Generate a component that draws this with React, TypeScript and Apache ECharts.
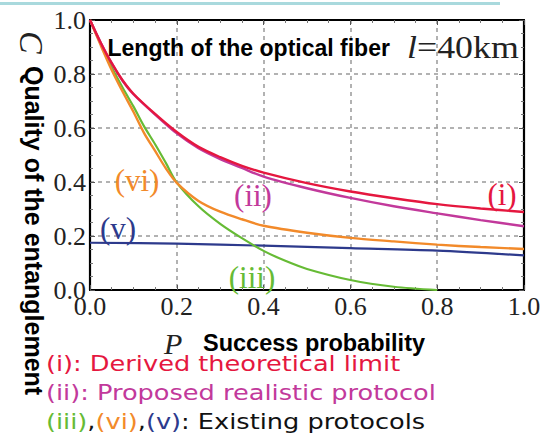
import React, { useEffect, useRef } from "react";
import * as echarts from "echarts";

// Success probability P (x) and quality C (y)
const pUpper = [0, 0.025, 0.05, 0.075, 0.1, 0.15, 0.2, 0.25, 0.3, 0.35, 0.4, 0.5, 0.6, 0.7, 0.8, 0.9, 1.0];
const limitI = [1.0, 0.915, 0.84, 0.777, 0.727, 0.652, 0.585, 0.53, 0.492, 0.46, 0.435, 0.396, 0.365, 0.34, 0.318, 0.302, 0.289];
const proposedII = [1.0, 0.915, 0.84, 0.775, 0.725, 0.65, 0.58, 0.525, 0.485, 0.452, 0.42, 0.377, 0.341, 0.31, 0.284, 0.259, 0.236];

const pOrange = [0, 0.025, 0.05, 0.075, 0.1, 0.125, 0.15, 0.175, 0.2, 0.25, 0.3, 0.35, 0.4, 0.5, 0.6, 0.7, 0.8, 0.9, 1.0];
const existingVI = [1.0, 0.905, 0.815, 0.735, 0.66, 0.58, 0.515, 0.45, 0.397, 0.33, 0.29, 0.262, 0.238, 0.212, 0.193, 0.18, 0.168, 0.159, 0.152];

const pGreen = [0, 0.025, 0.05, 0.075, 0.1, 0.125, 0.15, 0.175, 0.2, 0.25, 0.3, 0.35, 0.4, 0.45, 0.5, 0.6, 0.7, 0.8];
const existingIII = [1.0, 0.91, 0.825, 0.75, 0.68, 0.605, 0.54, 0.47, 0.398, 0.31, 0.245, 0.192, 0.145, 0.108, 0.078, 0.037, 0.012, 0.0];

const pBlue = [0, 0.2, 0.4, 0.6, 0.8, 1.0];
const existingV = [0.175, 0.172, 0.164, 0.155, 0.146, 0.128];

const tickLabels = ["0.0", "0.2", "0.4", "0.6", "0.8", "1.0"];

const RED = "#e5173f";
const MAGENTA = "#c2399b";
const GREEN = "#66bb35";
const ORANGE = "#f28a2a";
const BLUE = "#2d3a8c";

const pairs = (xs: number[], ys: number[]) => xs.map((x, i) => [x, ys[i]]);

const SERIF = "Liberation Serif";
const SANS = "Liberation Sans";
const LEG = "DejaVu Sans";

export default function App() {
  const ref = useRef<HTMLDivElement>(null);
  useEffect(() => {
    document.body.style.margin = "0";
    const chart = echarts.init(ref.current!, null, { renderer: "svg" });
    const labelFmt = (v: number) => tickLabels[Math.round(v * 5)] ?? "";
    const baseAxis = {
      min: 0,
      max: 1,
      interval: 0.2,
      axisLine: { show: true, onZero: false, lineStyle: { color: "#000", width: 2.2 } },
      axisTick: { show: true, inside: true, length: 5, lineStyle: { color: "#555", width: 1 } },
      minorTick: { show: true, splitNumber: 4, length: 3, lineStyle: { color: "#777", width: 1 } },
    };
    const label = (text: string, x: number, y: number, fill: string) => ({
      type: "text",
      x,
      y,
      z: 10,
      style: { text, fontFamily: SERIF, fontSize: 31, fill, align: "center", verticalAlign: "middle" },
    });
    const legendRow = (y: number, rich: string, richStyles: any) => ({
      type: "text",
      x: 46,
      y,
      scaleX: 1.25,
      style: { text: rich, verticalAlign: "middle", rich: richStyles },
    });
    const legStyle = (fill: string) => ({ fontFamily: LEG, fontSize: 20.5, fill });
    chart.setOption({
      animation: false,
      grid: { left: 90, right: 33, top: 20, bottom: 144, containLabel: false },
      xAxis: [
        {
          ...baseAxis,
          type: "value",
          position: "bottom",
          axisLabel: { formatter: labelFmt, fontFamily: SERIF, fontSize: 26, color: "#222", margin: 3 },
          splitLine: { show: true, lineStyle: { color: "#999", type: [4, 4], width: 1.5 } },
        },
        {
          ...baseAxis,
          type: "value",
          position: "top",
          axisLabel: { show: false },
          splitLine: { show: false },
        },
      ],
      yAxis: [
        {
          ...baseAxis,
          type: "value",
          position: "left",
          axisLabel: { formatter: labelFmt, fontFamily: SERIF, fontSize: 26, color: "#222", margin: 4 },
          splitLine: { show: true, lineStyle: { color: "#999", type: [4, 4], width: 1.5 } },
        },
        {
          ...baseAxis,
          type: "value",
          position: "right",
          axisLabel: { show: false },
          splitLine: { show: false },
        },
      ],
      series: [
        { type: "line", data: pairs(pBlue, existingV), showSymbol: false, smooth: 0.3, lineStyle: { color: BLUE, width: 2.2 } },
        { type: "line", data: pairs(pGreen, existingIII), showSymbol: false, smooth: 0.3, lineStyle: { color: GREEN, width: 2.2 } },
        { type: "line", data: pairs(pOrange, existingVI), showSymbol: false, smooth: 0.3, lineStyle: { color: ORANGE, width: 2.4 } },
        { type: "line", data: pairs(pUpper, proposedII), showSymbol: false, smooth: 0.3, lineStyle: { color: MAGENTA, width: 2.4 } },
        { type: "line", data: pairs(pUpper, limitI), showSymbol: false, smooth: 0.3, lineStyle: { color: RED, width: 2.4 } },
      ],
      graphic: [
        { type: "rect", shape: { x: 0, y: 2, width: 500, height: 3 }, style: { fill: "#a9d9dd" } },
        {
          type: "text",
          x: 107.5,
          y: 47.5,
          z: 10,
          style: { text: "Length of the optical fiber", fontFamily: SANS, fontWeight: "bold", fontSize: 23, fill: "#000", verticalAlign: "middle" },
        },
        {
          type: "text",
          x: 407,
          y: 47.5,
          z: 10,
          scaleX: 1.12,
          style: {
            text: "{b|l}{c|=40km}",
            verticalAlign: "middle",
            rich: {
              b: { fontFamily: SERIF, fontStyle: "italic", fontSize: 32, fill: "#222" },
              c: { fontFamily: SERIF, fontSize: 32, fill: "#222" },
            },
          },
        },
        label("(vi)", 137, 180, ORANGE),
        label("(ii)", 253, 195, MAGENTA),
        label("(i)", 502, 194, RED),
        label("(v)", 118, 228, BLUE),
        label("(iii)", 252, 277, GREEN),
        {
          type: "text",
          x: 31,
          y: 31,
          rotation: -Math.PI / 2,
          style: { text: "C", fontFamily: SERIF, fontStyle: "italic", fontSize: 34, fill: "#222", align: "left", verticalAlign: "middle" },
        },
        {
          type: "text",
          x: 34,
          y: 66,
          rotation: -Math.PI / 2,
          style: { text: "Quality of the entanglement", fontFamily: SANS, fontWeight: "bold", fontSize: 25, fill: "#000", align: "left", verticalAlign: "middle" },
        },
        {
          type: "text",
          x: 164,
          y: 343,
          style: { text: "P", fontFamily: SERIF, fontStyle: "italic", fontSize: 30, fill: "#222", verticalAlign: "middle" },
        },
        {
          type: "text",
          x: 203,
          y: 343,
          style: { text: "Success probability", fontFamily: SANS, fontWeight: "bold", fontSize: 23.5, fill: "#000", verticalAlign: "middle" },
        },
        legendRow(363, "{r|(i): Derived theoretical limit}", { r: legStyle(RED) }),
        legendRow(392.5, "{m|(ii): Proposed realistic protocol}", { m: legStyle(MAGENTA) }),
        legendRow(421.5, "{g|(iii)}{k|,}{o|(vi)}{k|,}{b|(v)}{k|: Existing protocols}", {
          g: legStyle(GREEN),
          o: legStyle(ORANGE),
          b: legStyle(BLUE),
          k: legStyle("#111"),
        }),
      ],
    });
    return () => chart.dispose();
  }, []);
  return <div ref={ref} style={{ width: 557, height: 434 }} />;
}
